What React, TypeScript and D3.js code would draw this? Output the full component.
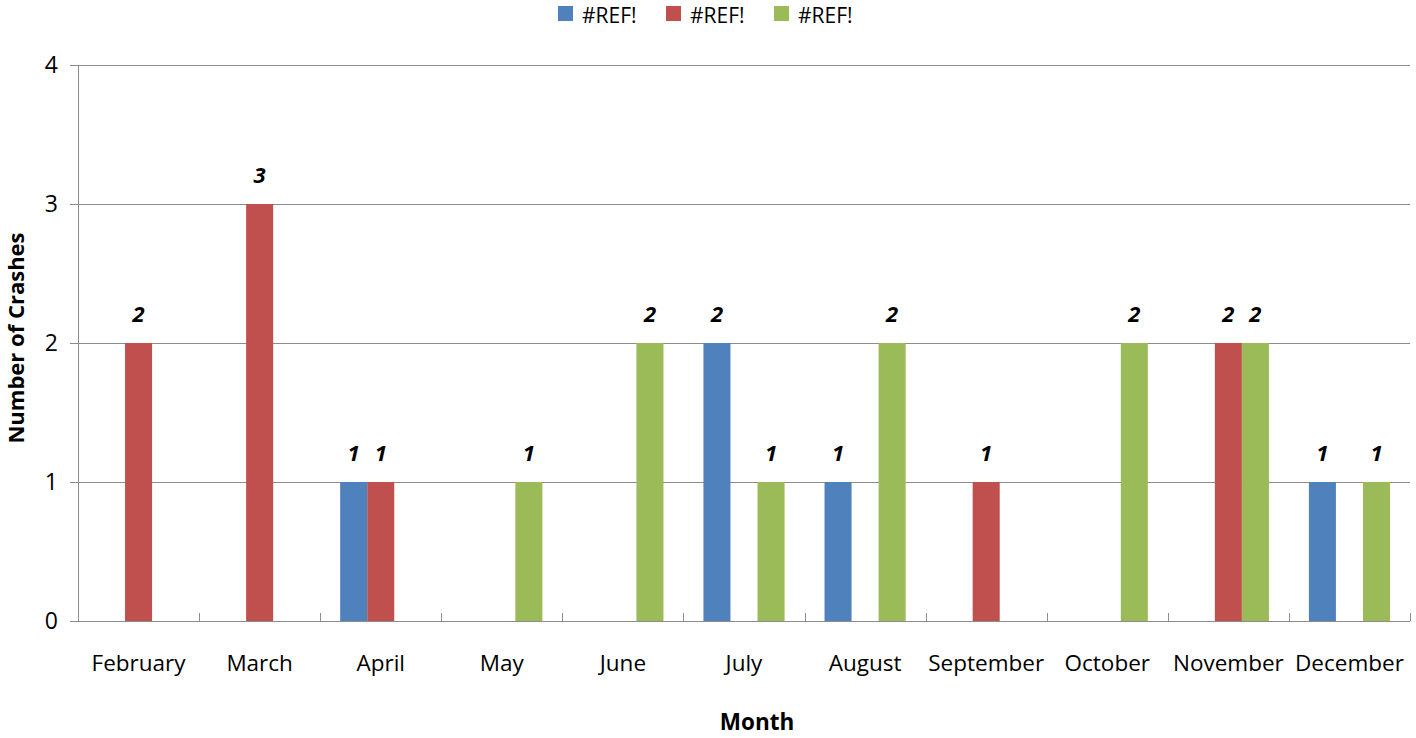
import { useEffect, useRef } from "react";
import * as d3 from "d3";

const months = ["February", "March", "April", "May", "June", "July", "August", "September", "October", "November", "December"];
const seriesNames = ["#REF!", "#REF!", "#REF!"];
const seriesColors = ["#4F81BD", "#C0504D", "#9BBB59"];
// null = no value in that month
const blueValues = [null, null, 1, null, null, 2, 1, null, null, null, 1];
const redValues = [2, 3, 1, null, null, null, null, 1, null, 2, null];
const greenValues = [null, null, null, 1, 2, 1, 2, null, 2, 2, 1];
const yTicks = [0, 1, 2, 3, 4];

const FONT = "'Open Sans', 'Noto Sans', sans-serif";

function App() {
    const ref = useRef<SVGSVGElement>(null);

    useEffect(() => {
        drawChart();
    }, []);

    function drawChart() {
        const svg = d3.select(ref.current);
        svg.selectAll("*").remove();

        const width = 1416, height = 738;
        const left = 78, right = 1410, top = 65, bottom = 621;

        const x = d3.scaleBand().domain(months).range([left, right]).paddingInner(0.33).paddingOuter(0.165);
        const x1 = d3.scaleBand().domain(["0", "1", "2"]).range([0, x.bandwidth()]);
        const y = d3.scaleLinear().domain([0, 4]).range([bottom, top]);

        svg.attr("width", width).attr("height", height);

        // gridlines
        svg.append("g")
            .selectAll("line")
            .data(yTicks)
            .enter()
            .append("line")
            .attr("x1", left - 8)
            .attr("x2", right)
            .attr("y1", (d) => Math.round(y(d)) + 0.5)
            .attr("y2", (d) => Math.round(y(d)) + 0.5)
            .attr("stroke", "#8C8C8C")
            .attr("stroke-width", 1);

        // y axis line
        svg.append("line")
            .attr("x1", left + 0.5).attr("x2", left + 0.5)
            .attr("y1", top).attr("y2", bottom)
            .attr("stroke", "#8C8C8C");

        // y tick labels
        svg.append("g")
            .selectAll("text")
            .data(yTicks)
            .enter()
            .append("text")
            .attr("x", left - 20)
            .attr("y", (d) => y(d))
            .attr("dy", "0.35em")
            .attr("text-anchor", "end")
            .attr("font-family", FONT)
            .attr("font-size", "23px")
            .attr("fill", "#000")
            .text((d) => d);

        // x tick marks at band boundaries
        const step = x.step();
        const xTickPos = d3.range(months.length + 1).map((i) => left + i * step);
        svg.append("g")
            .selectAll("line")
            .data(xTickPos)
            .enter()
            .append("line")
            .attr("x1", (d) => Math.round(d) + 0.5)
            .attr("x2", (d) => Math.round(d) + 0.5)
            .attr("y1", bottom - 8)
            .attr("y2", bottom)
            .attr("stroke", "#8C8C8C");

        // bars
        const allSeries = [blueValues, redValues, greenValues];
        allSeries.forEach((values, si) => {
            const rows = months.map((m, i) => ({ month: m, value: values[i] })).filter((d) => d.value !== null);

            svg.append("g")
                .selectAll("rect")
                .data(rows)
                .enter()
                .append("rect")
                .attr("x", (d) => x(d.month)! + x1(String(si))!)
                .attr("y", (d) => y(d.value as number))
                .attr("width", x1.bandwidth())
                .attr("height", (d) => bottom - y(d.value as number))
                .attr("fill", seriesColors[si]);

            svg.append("g")
                .selectAll("text")
                .data(rows)
                .enter()
                .append("text")
                .attr("x", (d) => x(d.month)! + x1(String(si))! + x1.bandwidth() / 2)
                .attr("y", (d) => y(d.value as number) - 29)
                .attr("dy", "0.35em")
                .attr("text-anchor", "middle")
                .attr("font-family", FONT)
                .attr("font-size", "22px")
                .attr("font-weight", "bold")
                .attr("font-style", "italic")
                .attr("fill", "#000")
                .text((d) => d.value as number);
        });

        // x axis line (drawn over bars)
        svg.append("line")
            .attr("x1", left).attr("x2", right)
            .attr("y1", bottom + 0.5).attr("y2", bottom + 0.5)
            .attr("stroke", "#8C8C8C");

        // month labels
        svg.append("g")
            .selectAll("text")
            .data(months)
            .enter()
            .append("text")
            .attr("x", (d) => x(d)! + x.bandwidth() / 2)
            .attr("y", 663)
            .attr("dy", "0.35em")
            .attr("text-anchor", "middle")
            .attr("font-family", FONT)
            .attr("font-size", "22.5px")
            .attr("fill", "#000")
            .text((d) => d);

        // axis titles
        svg.append("text")
            .attr("x", 757)
            .attr("y", 722)
            .attr("dy", "0.35em")
            .attr("text-anchor", "middle")
            .attr("font-family", FONT)
            .attr("font-size", "22.5px")
            .attr("font-weight", "bold")
            .text("Month");

        svg.append("text")
            .attr("transform", "rotate(-90)")
            .attr("x", -338)
            .attr("y", 16)
            .attr("dy", "0.35em")
            .attr("text-anchor", "middle")
            .attr("font-family", FONT)
            .attr("font-size", "22px")
            .attr("font-weight", "bold")
            .text("Number of Crashes");

        // legend
        const legendX = [558, 666, 774];
        const legend = svg.append("g")
            .selectAll("g")
            .data(seriesNames)
            .enter()
            .append("g")
            .attr("transform", (d, i) => `translate(${legendX[i]}, 0)`);

        legend.append("rect")
            .attr("x", 0).attr("y", 6)
            .attr("width", 15).attr("height", 15)
            .attr("fill", (d, i) => seriesColors[i]);

        legend.append("text")
            .attr("x", 24)
            .attr("y", 22.5)
            .attr("font-family", FONT)
            .attr("font-size", "21px")
            .attr("fill", "#000")
            .text((d) => d);
    }

    return (
        <div style={{ position: "fixed", left: 0, top: 0, background: "#fff" }}>
            <svg ref={ref} />
        </div>
    );
}

export default App;
